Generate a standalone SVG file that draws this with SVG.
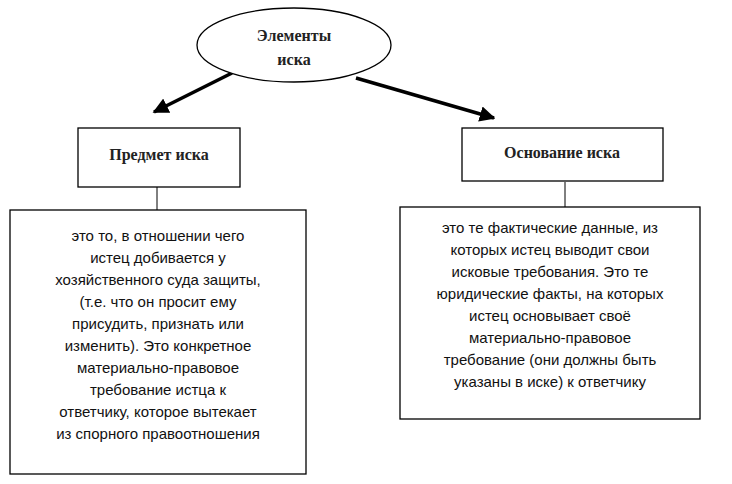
<svg xmlns="http://www.w3.org/2000/svg" width="732" height="484" viewBox="0 0 732 484">
<style>
.s{fill:#fff;stroke:#000;stroke-width:1.3}
.t{font-family:"Liberation Serif",serif;font-size:16px;font-weight:bold;text-anchor:middle;fill:#222}
.b{font-family:"Liberation Sans",sans-serif;font-size:15px;text-anchor:middle;fill:#111}
</style>
<defs><marker id="a" viewBox="0 0 10 10" refX="9" refY="5" markerWidth="4.5" markerHeight="4.5" orient="auto"><path d="M0,0L10,5L0,10z" fill="#000"/></marker></defs>
<rect width="732" height="484" fill="#fff"/>
<g id="connectors" stroke="#000">
<line x1="232" y1="73" x2="154" y2="112" stroke-width="3.5" marker-end="url(#a)"/>
<line x1="356" y1="78" x2="494" y2="118" stroke-width="3.5" marker-end="url(#a)"/>
<line x1="157" y1="187" x2="157" y2="210" stroke-width="1"/>
<line x1="565" y1="182" x2="565" y2="207" stroke-width="1"/>
</g>
<g id="root"><ellipse class="s" cx="294" cy="45" rx="97" ry="37"/>
<text class="t" x="294" y="41">Элементы</text><text class="t" x="294" y="65">иска</text></g>
<g id="subject"><rect class="s" x="78" y="128" width="162" height="59"/><text class="t" x="159" y="160">Предмет иска</text></g>
<g id="basis"><rect class="s" x="462" y="128" width="201" height="53"/><text class="t" x="562" y="158">Основание иска</text></g>
<g id="subject-text"><rect class="s" x="10" y="210" width="296" height="264"/>
<text class="b"><tspan x="158" y="241">это то, в отношении чего</tspan><tspan x="158" y="263">истец добивается у</tspan><tspan x="158" y="285">хозяйственного суда защиты,</tspan><tspan x="158" y="307">(т.е. что он просит ему</tspan><tspan x="158" y="329">присудить, признать или</tspan><tspan x="158" y="351">изменить). Это конкретное</tspan><tspan x="158" y="373">материально-правовое</tspan><tspan x="158" y="395">требование истца к</tspan><tspan x="158" y="417">ответчику, которое вытекает</tspan><tspan x="158" y="439">из спорного правоотношения</tspan></text></g>
<g id="basis-text"><rect class="s" x="400" y="207" width="300" height="212"/>
<text class="b"><tspan x="550" y="233">это те фактические данные, из</tspan><tspan x="550" y="255">которых истец выводит свои</tspan><tspan x="550" y="277">исковые требования. Это те</tspan><tspan x="550" y="299">юридические факты, на которых</tspan><tspan x="550" y="321">истец основывает своё</tspan><tspan x="550" y="343">материально-правовое</tspan><tspan x="550" y="365">требование (они должны быть</tspan><tspan x="550" y="387">указаны в иске) к ответчику</tspan></text></g>
</svg>
